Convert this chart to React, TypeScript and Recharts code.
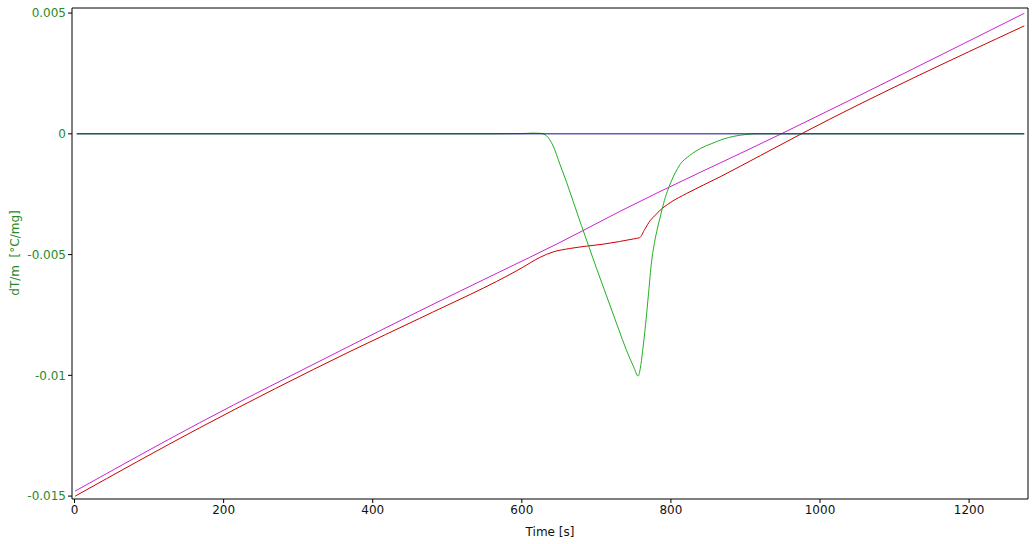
import { LineChart, Line, XAxis, YAxis } from "recharts"

const timeTicks = [0, 200, 400, 600, 800, 1000, 1200]
const dtTicks = [-0.015, -0.01, -0.005, 0, 0.005]

const blueTime = [3, 1274]
const blueDT = [0, 0]

const greenTime = [3, 560, 600, 615, 625, 633, 642, 651, 660, 670, 680, 690, 700, 710, 720, 730, 740, 750, 756, 759, 762, 766, 770, 774, 778, 782, 786, 790, 795, 800, 806, 812, 825, 840, 855, 870, 885, 900, 915, 1274]
const greenDT = [0, 0, 0.00001, 0.00003, 0.00002, -0.00008, -0.0005, -0.00125, -0.002, -0.0029, -0.0038, -0.00468, -0.00555, -0.0064, -0.00725, -0.0081, -0.00893, -0.00965, -0.01003, -0.0097, -0.009, -0.0079, -0.0066, -0.0053, -0.0045, -0.0039, -0.0034, -0.0029, -0.0024, -0.002, -0.0016, -0.00128, -0.0009, -0.0006, -0.0004, -0.00022, -0.0001, -0.00003, 0, 0]

const magentaTime = [1, 168, 356, 463, 570, 651, 731, 948, 1274]
const magentaDT = [-0.01479, -0.01196, -0.00899, -0.00733, -0.00572, -0.0045, -0.00322, 0, 0.00499]

const redTime = [1, 168, 371, 463, 600, 624, 642, 664, 687, 709, 731, 750, 758, 765, 772, 778, 785, 799, 821, 866, 920, 975, 1274]
const redDT = [-0.015, -0.01217, -0.00899, -0.00764, -0.00555, -0.00512, -0.00489, -0.00475, -0.00465, -0.00457, -0.00446, -0.00435, -0.0043, -0.00395, -0.0036, -0.0034, -0.00318, -0.00285, -0.00247, -0.00178, -0.0009, 0, 0.00447]

const toRows = (time: number[], dt: number[]) => time.map((t, i) => ({ t, v: dt[i] }))

const X_DOMAIN: [number, number] = [-3.4, 1279]
const Y_DOMAIN: [number, number] = [-0.01512, 0.00521]
const GREEN_TEXT = "#2a8a2a"

export default function App() {
    return (
        <div style={{ position: "fixed", left: 0, top: 0, width: 1032, height: 544, overflow: "hidden", background: "#fff" }}>
            <LineChart
                width={1032}
                height={544}
                margin={{ top: 7, right: 3, left: 0, bottom: 0 }}
                style={{ fontFamily: "DejaVu Sans" }}
            >
                <XAxis
                    type="number"
                    dataKey="t"
                    domain={X_DOMAIN}
                    ticks={timeTicks}
                    allowDataOverflow
                    height={45}
                    tickSize={4}
                    stroke="#000"
                    tick={{ fill: "#111", fontSize: 12 }}
                    label={{ value: "Time [s]", position: "insideBottom", offset: 8, fill: "#111", fontSize: 12 }}
                />
                {/* top + right axes close the frame; the blue baseline is bound to them */}
                <XAxis
                    xAxisId="top"
                    orientation="top"
                    type="number"
                    dataKey="t"
                    domain={X_DOMAIN}
                    ticks={timeTicks}
                    allowDataOverflow
                    height={1}
                    tick={false}
                    tickLine={false}
                    stroke="#000"
                />
                <YAxis
                    type="number"
                    domain={Y_DOMAIN}
                    ticks={dtTicks}
                    allowDataOverflow
                    width={72}
                    tickSize={4}
                    stroke="#000"
                    tick={{ fill: GREEN_TEXT, fontSize: 12 }}
                    label={{
                        content: () => (
                            <text
                                x={15}
                                y={253}
                                transform="rotate(-90 15 253)"
                                textAnchor="middle"
                                dominantBaseline="central"
                                fill={GREEN_TEXT}
                                fontSize={12}
                            >
                                {"dT/m\u00a0 [°C/mg]"}
                            </text>
                        ),
                    }}
                />
                <YAxis
                    yAxisId="right"
                    orientation="right"
                    type="number"
                    domain={Y_DOMAIN}
                    ticks={dtTicks}
                    allowDataOverflow
                    width={1}
                    tick={false}
                    tickLine={false}
                    stroke="#000"
                />
                <Line data={toRows(magentaTime, magentaDT)} dataKey="v" type="monotone" stroke="#cc22cc" strokeWidth={1} dot={false} isAnimationActive={false} />
                <Line data={toRows(redTime, redDT)} dataKey="v" type="monotone" stroke="#cc0000" strokeWidth={1} dot={false} isAnimationActive={false} />
                <Line data={toRows(greenTime, greenDT)} dataKey="v" type="monotone" stroke="#22b022" strokeWidth={1} dot={false} isAnimationActive={false} />
                <Line data={toRows(blueTime, blueDT)} xAxisId="top" yAxisId="right" dataKey="v" type="monotone" stroke="#101090" strokeWidth={1} dot={false} isAnimationActive={false} />
            </LineChart>
        </div>
    )
}
